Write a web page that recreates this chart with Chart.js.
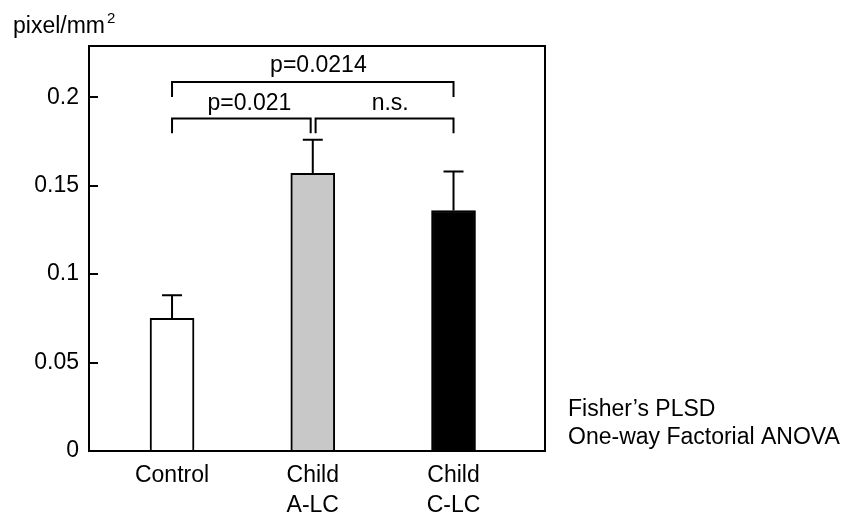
<!DOCTYPE html>
<html>
<head>
<meta charset="utf-8">
<script src="https://cdn.jsdelivr.net/npm/chart.js@4.4.1/dist/chart.umd.min.js"></script>
<style>
    body { margin: 0; background: #fff; }
    #wrap { width: 842px; height: 515px; }
</style>
</head>
<body>
<div id="wrap"><canvas id="grafico"></canvas></div>
<script>
// datos
const categorias = [['Control'], ['Child', 'A-LC'], ['Child', 'C-LC']];
const posiciones = [0, 1, 2];
const medias = [0.075, 0.157, 0.136];
const errores = [0.013, 0.019, 0.022];
const colores = ['#ffffff', '#c8c8c8', '#000000'];
const ticksY = [0, 0.05, 0.1, 0.15, 0.2];

// corchetes de comparacion: desde, hasta, altura, bajada
const corchetes = [
    { desde: 0, hasta: 2, y: 0.2086, pie: 0.2002 },
    { desde: 0, hasta: 0.985, y: 0.188, pie: 0.1797 },
    { desde: 1.02, hasta: 2, y: 0.188, pie: 0.1797 }
];
const etiquetasP = [
    { texto: 'p=0.0214', x: 1.04, y: 0.2141 },
    { texto: 'p=0.021', x: 0.55, y: 0.1927 },
    { texto: 'n.s.', x: 1.55, y: 0.1927 }
];
const notas = ["Fisher\u2019s PLSD", 'One-way Factorial ANOVA'];
const unidad = 'pixel/mm';
const exponente = '2';

const familia = '"Liberation Sans", Arial, sans-serif';
const fuente = '23px ' + familia;

const extras = {
    id: 'extras',
    afterDatasetsDraw(chart) {
        const ctx = chart.ctx;
        const xs = chart.scales.x;
        const ys = chart.scales.y;
        const area = chart.chartArea;
        ctx.save();
        ctx.strokeStyle = '#000';
        ctx.lineWidth = 2;

        // marco
        ctx.strokeRect(area.left, area.top, area.right - area.left, area.bottom - area.top);

        // ticks hacia adentro
        ticksY.forEach(v => {
            let py = Math.round(ys.getPixelForValue(v));
            ctx.beginPath();
            ctx.moveTo(area.left, py);
            ctx.lineTo(area.left + 9, py);
            ctx.stroke();
        });

        // barras de error
        medias.forEach((m, i) => {
            let px = xs.getPixelForValue(posiciones[i]);
            let y0 = ys.getPixelForValue(m);
            let y1 = ys.getPixelForValue(m + errores[i]);
            ctx.beginPath();
            ctx.moveTo(px, y0);
            ctx.lineTo(px, y1);
            ctx.moveTo(px - 10, y1);
            ctx.lineTo(px + 10, y1);
            ctx.stroke();
        });

        // corchetes
        corchetes.forEach(c => {
            let x0 = xs.getPixelForValue(c.desde);
            let x1 = xs.getPixelForValue(c.hasta);
            let yy = ys.getPixelForValue(c.y);
            let yp = ys.getPixelForValue(c.pie);
            ctx.beginPath();
            ctx.moveTo(x0, yp);
            ctx.lineTo(x0, yy);
            ctx.lineTo(x1, yy);
            ctx.lineTo(x1, yp);
            ctx.stroke();
        });

        ctx.fillStyle = '#000';
        ctx.font = fuente;
        ctx.textAlign = 'center';
        ctx.textBaseline = 'alphabetic';
        etiquetasP.forEach(e => {
            ctx.fillText(e.texto, xs.getPixelForValue(e.x), ys.getPixelForValue(e.y));
        });

        ctx.textAlign = 'left';
        ctx.fillText(unidad, 13, 33);
        let ancho = ctx.measureText(unidad).width;
        ctx.font = '15px ' + familia;
        ctx.fillText(exponente, 13 + ancho + 2, 23);
        ctx.font = fuente;
        notas.forEach((t, i) => ctx.fillText(t, 568, 416 + i * 28));
        ctx.restore();
    }
};

let ctx = document.getElementById('grafico').getContext('2d');
let chart = new Chart(ctx, {
    type: 'bar',
    data: {
        datasets: [{
            data: posiciones.map((p, i) => ({ x: p, y: medias[i] })),
            backgroundColor: colores,
            borderColor: '#000',
            borderWidth: 2,
            borderSkipped: 'bottom',
            barThickness: 44
        }]
    },
    options: {
        responsive: true,
        maintainAspectRatio: false,
        animation: false,
        layout: { padding: { left: 0, right: 297, top: 46, bottom: 0 } },
        plugins: {
            legend: { display: false },
            tooltip: { enabled: false }
        },
        scales: {
            x: {
                type: 'linear',
                offset: false,
                min: -0.59,
                max: 2.65,
                afterBuildTicks: scale => { scale.ticks = posiciones.map(v => ({ value: v })); },
                afterFit: scale => { scale.height = 64; },
                grid: { display: false, drawTicks: false },
                border: { display: true, color: '#000', width: 2 },
                ticks: {
                    color: '#000',
                    font: { family: familia, size: 23, lineHeight: 1.3 },
                    padding: 10,
                    maxRotation: 0,
                    callback: v => categorias[v]
                }
            },
            y: {
                min: 0,
                max: 0.229,
                afterBuildTicks: scale => { scale.ticks = ticksY.map(v => ({ value: v })); },
                afterFit: scale => { scale.width = 89; },
                grid: { display: false, drawTicks: false },
                border: { display: true, color: '#000', width: 2 },
                ticks: {
                    color: '#000',
                    font: { family: familia, size: 23 },
                    padding: 10,
                    callback: v => String(+v.toFixed(2))
                }
            }
        }
    },
    plugins: [extras]
});
</script>
</body>
</html>
